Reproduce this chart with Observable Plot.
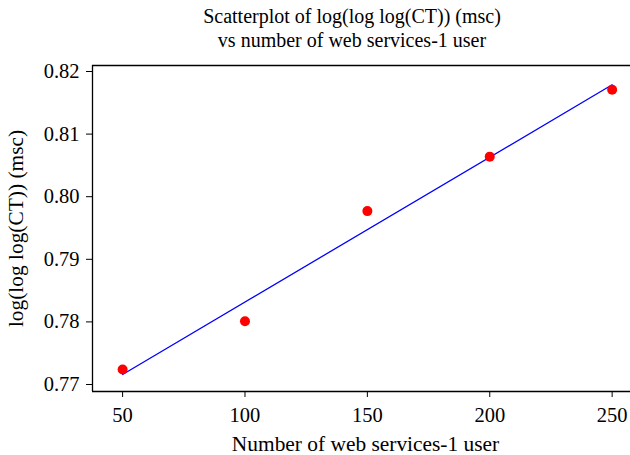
<!DOCTYPE html>
<html>
<head>
<meta charset="utf-8">
<script src="https://cdn.jsdelivr.net/npm/d3@7"></script>
<script src="https://cdn.jsdelivr.net/npm/@observablehq/plot@0.6"></script>
<style>
  html, body { margin: 0; padding: 0; background: white; overflow: hidden; }
  #title { width: 556px; padding-left: 74px; height: 46px; padding-top: 5px; text-align: center;
    font-family: "Liberation Serif", "Times New Roman", serif; font-size: 20px; line-height: 23.5px;
    color: #000; white-space: nowrap; }
  #chart svg { display: block; }
</style>
</head>
<body>
<div id="title">Scatterplot of log(log log(CT)) (msc)<br>vs number of web services-1 user</div>
<div id="chart"></div>
<script>
const users = [50, 100, 150, 200, 250];
const logCT = [0.7724, 0.7801, 0.7977, 0.8064, 0.8171];
const xTicks = [50, 100, 150, 200, 250];
const yTicks = [0.77, 0.78, 0.79, 0.80, 0.81, 0.82];
const xLabel = "Number of web services-1 user";
const yLabel = "log(log log(CT)) (msc)";
const xDomain = [37.7, 257.5];
const yDomain = [0.76888, 0.82096];

const data = users.map((u, i) => ({users: u, value: logCT[i]}));
const font = "'Liberation Serif', 'Times New Roman', serif";

const plot = Plot.plot({
  width: 630,
  height: 404,
  marginTop: 14,
  marginBottom: 64,
  marginLeft: 92,
  marginRight: 0,
  style: {fontFamily: font, fontSize: "20.5px", color: "#000", background: "white"},
  x: {domain: xDomain, ticks: xTicks, tickSize: 6, tickPadding: 10, label: null, tickFormat: d => String(d)},
  y: {domain: yDomain, ticks: yTicks, tickSize: 6, tickPadding: 7, label: null, tickFormat: d => d.toFixed(2)},
  marks: [
    Plot.ruleX([xDomain[0]], {stroke: "#000", strokeWidth: 1.3}),
    Plot.ruleY([yDomain[0]], {stroke: "#000", strokeWidth: 1.3}),
    Plot.ruleY([yDomain[1]], {stroke: "#000", strokeWidth: 1.3}),
    Plot.linearRegressionY(data, {x: "users", y: "value", stroke: "#0000ff", strokeWidth: 1.3, ci: 0}),
    Plot.dot(data, {x: "users", y: "value", r: 5, fill: "#ff0000", stroke: null}),
    Plot.text([xLabel], {frameAnchor: "bottom", text: d => d, textAnchor: "middle", lineAnchor: "middle", dx: 4, dy: 53, fontSize: 21.4, fill: "#000"}),
    Plot.text([yLabel], {frameAnchor: "left", text: d => d, textAnchor: "middle", lineAnchor: "middle", dx: -76, dy: 0, rotate: -90, fontSize: 21.4, fill: "#000"})
  ]
});
document.getElementById("chart").appendChild(plot);
</script>
</body>
</html>
